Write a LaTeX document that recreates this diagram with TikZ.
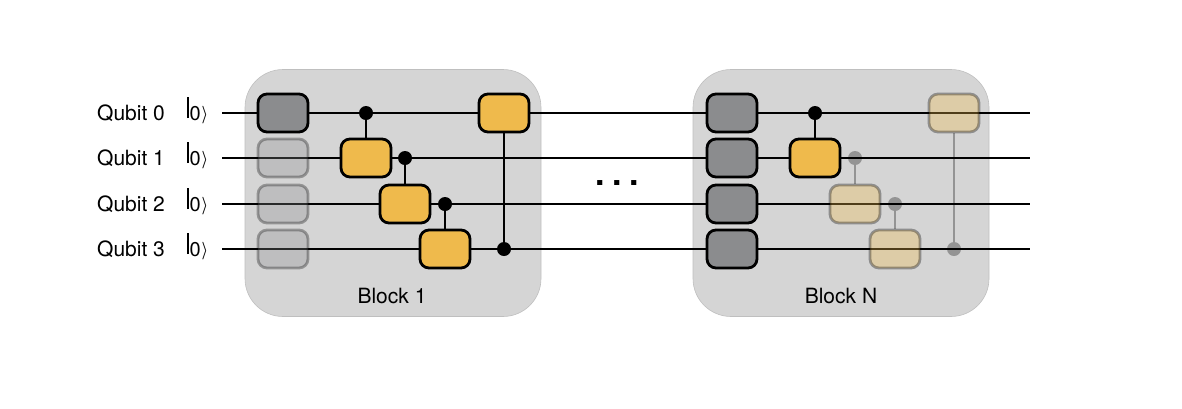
\documentclass[tikz,border=0pt]{standalone}
\usepackage{fontspec}
\setmainfont{TeX Gyre Heros}
\usepackage{graphicx}
\usepackage{amsmath}
\usetikzlibrary{positioning}

\definecolor{gateOrange}{HTML}{EFBA4C}
\definecolor{gateGrey}{HTML}{8B8C8E}
\definecolor{blockGrey}{HTML}{D5D5D5}

\newcommand{\ketzero}{\fontsize{20}{22}\selectfont\raisebox{2pt}{\rule{1.8pt}{21pt}}\kern.5pt 0\kern1pt\raisebox{.5pt}{\scalebox{.7}[.85]{$\boldsymbol{\rangle}$}}}

\begin{document}
\begin{tikzpicture}[x=1pt, y=-1pt,
  block/.style={rectangle, rounded corners=38pt, draw=black!25, line width=.6pt, fill=blockGrey,
    minimum width=296pt, minimum height=247pt, inner sep=0pt},
  %
  gate/.style={rectangle, rounded corners=9pt, draw=black, line width=2.8pt,
    minimum width=50pt, minimum height=38pt, inner sep=0pt},
  %
  rot/.style={gate, fill=gateGrey},
  rotfaded/.style={rot, opacity=.3},
  %
  cnot/.style={gate, fill=gateOrange},
  cnotfaded/.style={cnot, opacity=.33},
  %
  ctrl/.style={circle, fill=black, minimum size=14pt, inner sep=0pt},
  ctrlfaded/.style={ctrl, opacity=.3},
  %
  link/.style={draw=black, line width=2.8pt},
  linkfaded/.style={link, draw opacity=.3},
  %
  wire/.style={draw=black, line width=2.8pt},
  label/.style={font=\fontsize{21}{24}\selectfont, text=black, inner sep=0pt}
  ]

  \useasboundingbox (0,0) rectangle (1182,408);

  % blocks
  \node [block] (block1) at (393,193) {};
  \node [block] (blockN) at (841,193) {};
  \node [label] (block1label) at (392,296) {Block 1};
  \node [label] (blockNlabel) at (841,296) {Block N};

  % wires and labels
  \foreach \i/\y in {0/113, 1/158, 2/204, 3/249} {
    \node [label, anchor=west] (qubit\i) at (97,\y) {Qubit \i};
    \node [label, anchor=base west] (ket\i) at (187,\y+7) {\ketzero};
    \coordinate (wirein\i) at (222,\y);
    \coordinate (wireout\i) at (1030,\y);
    \draw [wire] (wirein\i) -- (wireout\i);
  }

  \node [font=\bfseries\fontsize{34}{34}\selectfont, inner sep=0pt] (dots) at (617,183) {.\kern7.5pt.\kern7.5pt.};

  % block 1
  \node [rot] (r10) at (283,113) {};
  \node [rotfaded] (r11) at (283,158) {};
  \node [rotfaded] (r12) at (283,204) {};
  \node [rotfaded] (r13) at (283,249) {};

  \node [ctrl] (c10) at (366,113) {};
  \node [ctrl] (c11) at (405,158) {};
  \node [ctrl] (c12) at (445,204) {};
  \node [ctrl] (c13) at (504,249) {};

  \node [cnot] (g10) at (366,158) {};
  \node [cnot] (g11) at (405,204) {};
  \node [cnot] (g12) at (445,249) {};
  \node [cnot] (g13) at (504,113) {};

  \draw [link] (c10) -- (g10);
  \draw [link] (c11) -- (g11);
  \draw [link] (c12) -- (g12);
  \draw [link] (c13) -- (g13);

  % block N
  \node [rot] (rN0) at (732,113) {};
  \node [rot] (rN1) at (732,158) {};
  \node [rot] (rN2) at (732,204) {};
  \node [rot] (rN3) at (732,249) {};

  \node [ctrl] (cN0) at (815,113) {};
  \node [ctrlfaded] (cN1) at (855,158) {};
  \node [ctrlfaded] (cN2) at (895,204) {};
  \node [ctrlfaded] (cN3) at (954,249) {};

  \node [cnot] (gN0) at (815,158) {};
  \node [cnotfaded] (gN1) at (855,204) {};
  \node [cnotfaded] (gN2) at (895,249) {};
  \node [cnotfaded] (gN3) at (954,113) {};

  \draw [link] (cN0) -- (gN0);
  \draw [linkfaded] (cN1) -- (gN1);
  \draw [linkfaded] (cN2) -- (gN2);
  \draw [linkfaded] (cN3) -- (gN3);

\end{tikzpicture}
\end{document}
